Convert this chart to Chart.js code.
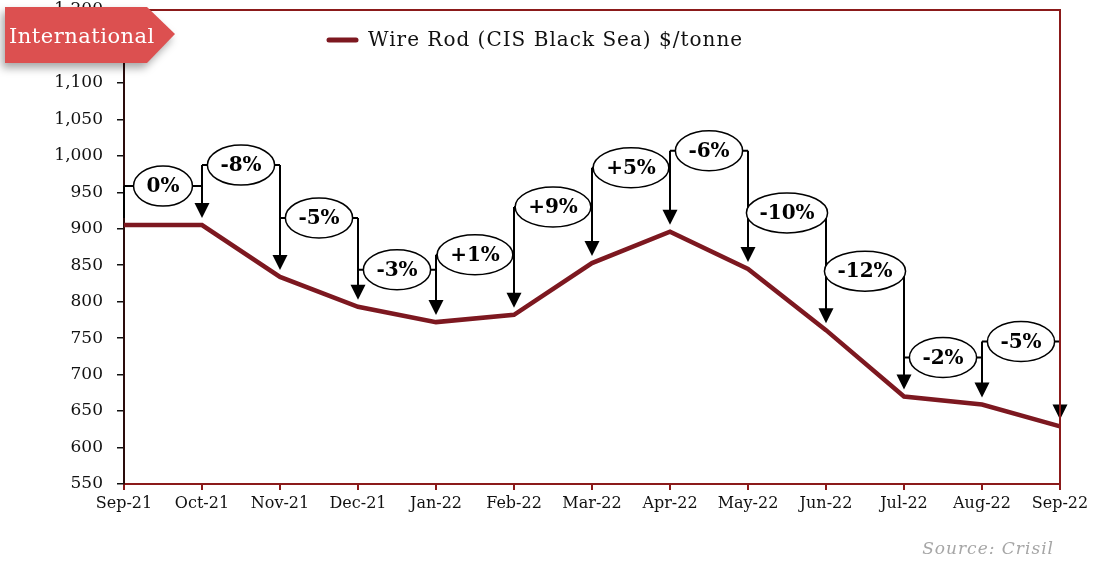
<!DOCTYPE html>
<html>
<head>
<meta charset="utf-8">
<script src="https://cdn.jsdelivr.net/npm/chart.js@4.4.1/dist/chart.umd.min.js"></script>
<style>
  body { margin: 0; background: #fff; }
  canvas { display: block; }
</style>
</head>
<body>
<canvas id="wireRodChart" width="1093" height="561"></canvas>
<script>
// Wire rod (CIS Black Sea) $/tonne, month end
const months = ['Sep-21', 'Oct-21', 'Nov-21', 'Dec-21', 'Jan-22', 'Feb-22', 'Mar-22',
                'Apr-22', 'May-22', 'Jun-22', 'Jul-22', 'Aug-22', 'Sep-22'];
const wireRod = [905, 905, 834, 793, 772, 782, 853, 896, 845, 761, 670, 659, 629];
// month on month change shown in the bubbles
const changeLabels = ['0%', '-8%', '-5%', '-3%', '+1%', '+9%', '+5%', '-6%', '-10%', '-12%', '-2%', '-5%'];
const yMin = 550, yMax = 1200, yStep = 50;

// how far (px) each bracket sits above the higher of its two points
const bracketLift = [39, 60, 59, 37, 60, 56, 64, 81, 56, 59, 39, 63];

const maroon = '#7d1820';
const frameRed = '#8b1a1a';
const serif = '"DejaVu Serif", "Liberation Serif", serif';

const changeBrackets = {
  id: 'changeBrackets',
  afterDatasetsDraw(chart) {
    const ctx = chart.ctx;
    const xs = chart.scales.x, ys = chart.scales.y;
    const px = months.map((m, i) => xs.getPixelForValue(i));
    const py = wireRod.map(v => ys.getPixelForValue(v));
    const levels = changeLabels.map((_, i) => Math.min(py[i], py[i + 1]) - bracketLift[i]);

    ctx.save();
    ctx.strokeStyle = '#000';
    ctx.fillStyle = '#000';
    ctx.lineWidth = 2;

    levels.forEach((lv, i) => {
      ctx.beginPath();
      ctx.moveTo(px[i], lv);
      ctx.lineTo(px[i + 1], lv);
      ctx.stroke();
    });

    py.forEach((y, j) => {
      const adj = [];
      if (j > 0) adj.push(levels[j - 1]);
      if (j < levels.length) adj.push(levels[j]);
      const top = Math.min(...adj);
      const tip = y - 7;
      ctx.beginPath();
      ctx.moveTo(px[j], top);
      ctx.lineTo(px[j], j === 0 ? tip : tip - 12);
      ctx.stroke();
      if (j > 0) {
        ctx.beginPath();
        ctx.moveTo(px[j] - 7.5, tip - 15);
        ctx.lineTo(px[j] + 7.5, tip - 15);
        ctx.lineTo(px[j], tip);
        ctx.closePath();
        ctx.fill();
      }
    });

    ctx.font = 'bold 20px ' + serif;
    ctx.textAlign = 'center';
    ctx.textBaseline = 'middle';
    levels.forEach((lv, i) => {
      const cx = (px[i] + px[i + 1]) / 2;
      const w = ctx.measureText(changeLabels[i]).width + 26;
      ctx.beginPath();
      ctx.ellipse(cx, lv, w / 2, 20, 0, 0, Math.PI * 2);
      ctx.fillStyle = '#fff';
      ctx.fill();
      ctx.lineWidth = 1.5;
      ctx.strokeStyle = '#000';
      ctx.stroke();
      ctx.fillStyle = '#000';
      ctx.fillText(changeLabels[i], cx, lv + 1);
    });
    ctx.restore();
  },
  afterDraw(chart) {
    const ctx = chart.ctx;
    const a = chart.chartArea;
    ctx.save();

    // top and right frame
    ctx.strokeStyle = frameRed;
    ctx.lineWidth = 2;
    ctx.beginPath();
    ctx.moveTo(a.left, a.top);
    ctx.lineTo(a.right, a.top);
    ctx.lineTo(a.right, a.bottom);
    ctx.stroke();

    // legend
    ctx.strokeStyle = maroon;
    ctx.lineWidth = 5;
    ctx.lineCap = 'round';
    ctx.beginPath();
    ctx.moveTo(329, 40);
    ctx.lineTo(356, 40);
    ctx.stroke();
    ctx.fillStyle = '#111';
    ctx.font = '20px ' + serif;
    ctx.textBaseline = 'middle';
    ctx.letterSpacing = '1px';
    ctx.fillText('Wire Rod (CIS Black Sea) $/tonne', 368, 41);

    // "International" tag
    ctx.shadowColor = 'rgba(0,0,0,0.35)';
    ctx.shadowBlur = 8;
    ctx.shadowOffsetX = -3;
    ctx.shadowOffsetY = 5;
    ctx.fillStyle = '#dc5050';
    ctx.beginPath();
    ctx.moveTo(5, 7);
    ctx.lineTo(147, 7);
    ctx.lineTo(175, 34);
    ctx.lineTo(147, 63);
    ctx.lineTo(5, 63);
    ctx.closePath();
    ctx.fill();
    ctx.shadowColor = 'transparent';
    ctx.fillStyle = '#fff';
    ctx.font = '21px ' + serif;
    ctx.letterSpacing = '0.5px';
    ctx.fillText('International', 9, 38);

    // source
    ctx.fillStyle = '#a6a6a6';
    ctx.font = 'italic 17px ' + serif;
    ctx.letterSpacing = '1px';
    ctx.textAlign = 'right';
    ctx.fillText('Source: Crisil', 1054, 550);
    ctx.restore();
  }
};

new Chart(document.getElementById('wireRodChart'), {
  type: 'line',
  data: {
    labels: months,
    datasets: [{
      label: 'Wire Rod (CIS Black Sea) $/tonne',
      data: wireRod,
      borderColor: maroon,
      borderWidth: 4.5,
      pointRadius: 0,
      tension: 0,
      fill: false
    }]
  },
  options: {
    responsive: false,
    animation: false,
    layout: { padding: { top: 10, right: 33, left: 0, bottom: 0 } },
    plugins: {
      legend: { display: false },
      tooltip: { enabled: false }
    },
    scales: {
      x: {
        grid: { drawOnChartArea: false, tickLength: 6, color: frameRed, lineWidth: 2 },
        border: { color: frameRed, width: 2 },
        ticks: { color: '#111', font: { family: serif, size: 16 }, padding: 4, maxRotation: 0, autoSkip: false },
        afterFit(scale) { scale.height = 77; }
      },
      y: {
        min: yMin,
        max: yMax,
        grid: { drawOnChartArea: false, tickLength: 7, color: '#111', lineWidth: 1.5 },
        border: { color: '#2a0c0c', width: 2 },
        ticks: { stepSize: yStep, color: '#111', font: { family: serif, size: 17 }, padding: 14 },
        afterFit(scale) {
          scale.width = 124;
          scale.paddingTop = 0;
          scale.paddingBottom = 0;
        }
      }
    }
  },
  plugins: [changeBrackets]
});
</script>
</body>
</html>
